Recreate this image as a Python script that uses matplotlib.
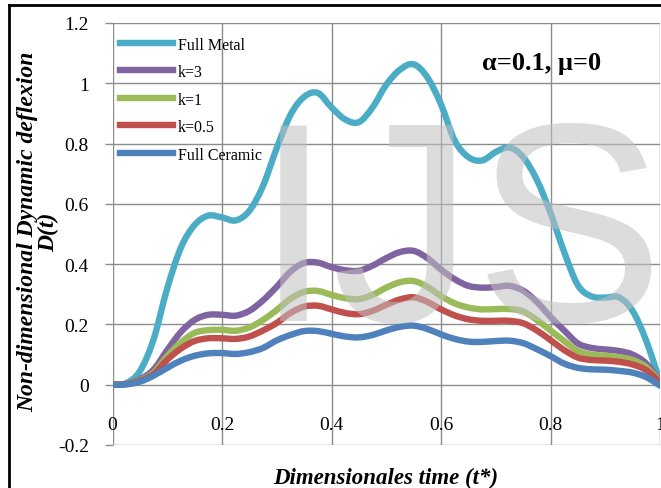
import matplotlib
matplotlib.use('Agg')
import matplotlib.pyplot as plt
from matplotlib.lines import Line2D
from matplotlib.path import Path
from matplotlib.patches import PathPatch
import numpy as np

# dimensionless time grid
t = np.linspace(0, 1, 41)

full_metal = [0, 0.005, 0.045, 0.15, 0.32, 0.455, 0.53, 0.561, 0.555, 0.545,
              0.577, 0.66, 0.785, 0.895, 0.955, 0.968, 0.92, 0.88, 0.871, 0.92,
              0.995, 1.045, 1.063, 1.02, 0.93, 0.81, 0.755, 0.744, 0.772, 0.787,
              0.755, 0.68, 0.57, 0.44, 0.33, 0.293, 0.289, 0.29, 0.245, 0.145, 0.01]
k3 = [0, 0.003, 0.018, 0.05, 0.115, 0.175, 0.215, 0.232, 0.232, 0.229,
      0.245, 0.28, 0.325, 0.375, 0.404, 0.405, 0.39, 0.38, 0.378, 0.395,
      0.42, 0.44, 0.444, 0.42, 0.382, 0.35, 0.328, 0.322, 0.324, 0.328,
      0.312, 0.275, 0.225, 0.18, 0.137, 0.122, 0.117, 0.112, 0.1, 0.07, 0.01]
k1 = [0, 0.003, 0.015, 0.04, 0.095, 0.14, 0.172, 0.181, 0.182, 0.179,
      0.19, 0.215, 0.248, 0.285, 0.308, 0.311, 0.298, 0.287, 0.284, 0.298,
      0.322, 0.34, 0.344, 0.325, 0.294, 0.27, 0.256, 0.25, 0.251, 0.251,
      0.243, 0.215, 0.18, 0.145, 0.112, 0.1, 0.096, 0.091, 0.082, 0.058, 0.01]
k05 = [0, 0.002, 0.013, 0.035, 0.083, 0.12, 0.145, 0.154, 0.154, 0.152,
       0.16, 0.18, 0.205, 0.238, 0.259, 0.262, 0.25, 0.238, 0.234, 0.245,
       0.265, 0.283, 0.29, 0.275, 0.25, 0.23, 0.217, 0.212, 0.212, 0.212,
       0.204, 0.18, 0.148, 0.115, 0.09, 0.082, 0.08, 0.076, 0.067, 0.048, 0.008]
full_ceramic = [0, 0.001, 0.01, 0.03, 0.056, 0.08, 0.096, 0.104, 0.105, 0.102,
                0.108, 0.122, 0.147, 0.165, 0.178, 0.178, 0.169, 0.16, 0.157, 0.165,
                0.18, 0.192, 0.196, 0.185, 0.167, 0.152, 0.143, 0.142, 0.145, 0.146,
                0.138, 0.118, 0.095, 0.07, 0.056, 0.051, 0.05, 0.046, 0.04, 0.025, -0.003]

series = [
    ('Full Metal', full_metal, '#4BACC6'),
    ('k=3', k3, '#8064A2'),
    ('k=1', k1, '#9BBB59'),
    ('k=0.5', k05, '#C0504D'),
    ('Full Ceramic', full_ceramic, '#4F81BD'),
]

xticks = [0, 0.2, 0.4, 0.6, 0.8, 1]
xticklabels = ['0', '0.2', '0.4', '0.6', '0.8', '1']
yticks = [-0.2, 0, 0.2, 0.4, 0.6, 0.8, 1, 1.2]
yticklabels = ['-0.2', '0', '0.2', '0.4', '0.6', '0.8', '1', '1.2']


def smooth_path(x, y):
    """Excel-like smoothed line: Bezier segments through every data point."""
    p = np.column_stack([x, y]).astype(float)
    ext = np.vstack([p[0], p, p[-1]])
    verts = [p[0]]
    codes = [Path.MOVETO]
    for i in range(len(p) - 1):
        p0, p1, p2, p3 = ext[i], ext[i + 1], ext[i + 2], ext[i + 3]
        verts += [p1 + (p2 - p0) / 6, p2 - (p3 - p1) / 6, p2]
        codes += [Path.CURVE4] * 3
    return Path(verts, codes)


W, H = 661, 489
fig = plt.figure(figsize=(W / 100, H / 100), dpi=100)
ax = fig.add_axes([112.5 / W, 1 - 446 / H, 547.5 / W, 422 / H])

for name, vals, col in series:
    ax.add_patch(PathPatch(smooth_path(t, vals), facecolor='none', edgecolor=col,
                           lw=4.6, capstyle='round', joinstyle='round'))
    ax.plot([], [], color=col, lw=4.6, label=name)

ax.set_xlim(0, 1)
ax.set_ylim(-0.2, 1.2)
ax.set_xticks(xticks)
ax.set_xticklabels(xticklabels)
ax.set_yticks(yticks)
ax.set_yticklabels(yticklabels)
for s in ax.spines.values():
    s.set_visible(False)
ax.grid(True, color='#8c8c8c', lw=1)
ax.set_axisbelow(True)
ax.tick_params(axis='y', length=6, color='#8c8c8c', width=1, pad=11,
               labelsize=14)
ax.tick_params(axis='x', length=0, pad=-21, labelsize=14)
for lab in ax.get_xticklabels() + ax.get_yticklabels():
    lab.set_family('Liberation Serif')

leg = ax.legend(loc='upper left', bbox_to_anchor=(0.0137, 0.968), frameon=False,
                borderaxespad=0, borderpad=0, handlelength=3.3, handletextpad=0.3,
                labelspacing=0.72, prop={'family': 'Liberation Serif', 'size': 11.5})

ax.text(0.784, 1.07, 'α=0.1, μ=0', ha='center', va='center', fontsize=19,
        fontweight='bold', family='Liberation Serif')

fig.text(38 / W, 1 - 232 / H, 'Non-dimensional Dynamic deflexion\nD(t)',
         rotation=90, ha='center', va='center', multialignment='center',
         fontsize=17, fontweight='bold', fontstyle='italic',
         family='Liberation Serif', linespacing=1.0)
fig.text(386 / W, 1 - 478 / H, 'Dimensionales time (t*)', ha='center',
         va='center', fontsize=16.5, fontweight='bold', fontstyle='italic',
         family='Liberation Serif')

# watermark
fig.text(254 / W, 1 - 321 / H, 'IJS', fontsize=205, family='Liberation Sans',
         color='#c0c0c0', alpha=0.55, ha='left', va='baseline', zorder=10)

# outer frame (cropped)
fig.add_artist(Line2D([9 / W, 9 / W], [0, 1 - 6 / H], color='black', lw=2))
fig.add_artist(Line2D([9 / W, 1], [1 - 6 / H, 1 - 6 / H], color='black', lw=2))

fig.savefig('out.png', dpi=100)
